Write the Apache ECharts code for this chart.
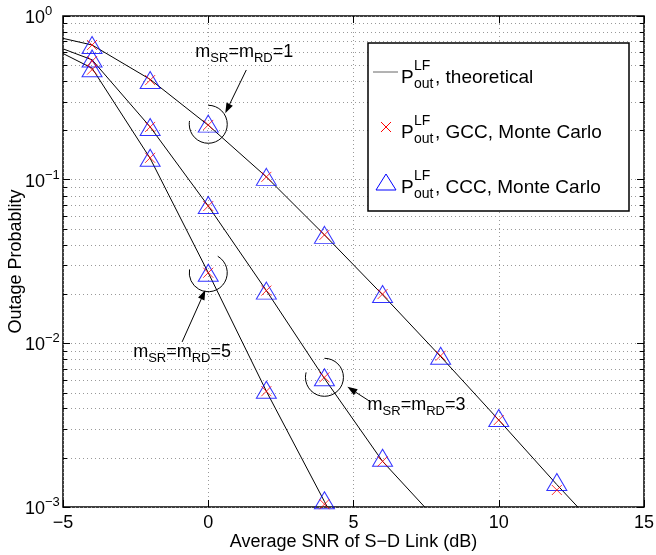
<!DOCTYPE html>
<html>
<head>
<meta charset="utf-8">
<script src="https://cdn.jsdelivr.net/npm/echarts@6/dist/echarts.min.js"></script>
<style>
html, body { margin: 0; padding: 0; background: #fff; }
#chart { width: 656px; height: 555px; }
</style>
</head>
<body>
<div id="chart"></div>
<script>
var FONT = '"Liberation Sans", Arial, sans-serif';

// theoretical curves (x in dB, outage probability)
var theoX1 = [-5, -4, -2, 0, 2, 4, 6, 8, 10, 12, 12.72];
var theoY1 = [0.73, 0.665, 0.41, 0.215, 0.104, 0.046, 0.0198, 0.0083, 0.0034, 0.00137, 0.001];
var theoX3 = [-5, -4, -2, 0, 2, 4, 6, 7.45];
var theoY3 = [0.63, 0.54, 0.21, 0.069, 0.021, 0.0061, 0.0019, 0.001];
var theoX5 = [-5, -4, -2, 0, 2, 4, 4.1];
var theoY5 = [0.59, 0.48, 0.135, 0.027, 0.0051, 0.00108, 0.001];

// monte carlo points
var snr = [-4, -2, 0, 2, 4, 6, 8, 10, 12];
var gccM1 = [0.665, 0.406, 0.216, 0.104, 0.046, 0.020, 0.0084, 0.0034, 0.00127];
var cccM1 = [0.665, 0.406, 0.22, 0.104, 0.046, 0.020, 0.0084, 0.0035, 0.00142];
var gccM3 = [0.53, 0.21, 0.069, 0.021, 0.0062, 0.0019];
var cccM3 = [0.55, 0.21, 0.070, 0.021, 0.0062, 0.0020];
var gccM5 = [0.47, 0.136, 0.027, 0.0051, 0.00104];
var cccM5 = [0.48, 0.136, 0.027, 0.0052, 0.0011];

// y tick labels (decades) and minor grid values of the log axis
var yTicks = [1, 0.1, 0.01, 0.001];
var yTickExp = ['0', '\u22121', '\u22122', '\u22123'];
var minorTicks = [0.002, 0.003, 0.004, 0.005, 0.006, 0.007, 0.008, 0.009,
	0.02, 0.03, 0.04, 0.05, 0.06, 0.07, 0.08, 0.09,
	0.2, 0.3, 0.4, 0.5, 0.6, 0.7, 0.8, 0.9];

// annotations: circled point, arrow tail/tip, label position
var notes = [
	{ text: '1', point: [0, 0.218], tail: [1.31, 0.468], tip: [0.586, 0.255], label: [1.24, 0.60], arc: [-90, 190] },
	{ text: '5', point: [0, 0.027], tail: [-0.9, 0.0102], tip: [-0.10, 0.0212], label: [-0.9, 0.0089], arc: [-60, 190] },
	{ text: '3', point: [4, 0.0062], tail: [5.59, 0.00439], tip: [4.79, 0.00542], label: [7.17, 0.0042], arc: [-90, 195] }
];

function zip(xs, ys) {
	var out = [];
	for (var i = 0; i < ys.length; i++) out.push([xs[i], ys[i]]);
	return out;
}

var X_PATH = 'path://M0,0L10,10M10,0L0,10';

function theoSeries(xs, ys) {
	return {
		type: 'line', data: zip(xs, ys), symbol: 'none', silent: true,
		lineStyle: { color: '#000', width: 1 }, z: 3
	};
}
function triSeries(ys) {
	return {
		type: 'scatter', data: zip(snr, ys), symbol: 'triangle', symbolSize: [20, 17], silent: true,
		itemStyle: { color: 'none', borderColor: '#0000ff', borderWidth: 1 }, z: 4
	};
}
function crossSeries(ys) {
	return {
		type: 'scatter', data: zip(snr, ys), symbol: X_PATH, symbolSize: 10, silent: true,
		itemStyle: { color: 'none', borderColor: '#ff0000', borderWidth: 1 }, z: 5
	};
}

var chart = echarts.init(document.getElementById('chart'), null, { renderer: 'canvas' });

var tickStyle = { inside: true, length: 7, lineStyle: { color: '#000' } };

var option = {
	animation: false,
	textStyle: { fontFamily: FONT },
	grid: {
		left: 63, right: 12, top: 16, bottom: 48, show: true, borderColor: '#000', borderWidth: 1.5,
		containLabel: false, outerBoundsMode: 'none'
	},
	xAxis: [{
		type: 'value', min: -5, max: 15, interval: 5,
		name: 'Average SNR of S\u2212D Link (dB)', nameLocation: 'middle', nameGap: 26, nameMoveOverlap: false,
		nameTextStyle: { fontSize: 18, color: '#000', fontFamily: FONT },
		axisLine: { show: false, onZero: false },
		axisTick: tickStyle,
		axisLabel: {
			fontSize: 18, color: '#000', margin: 7, fontFamily: FONT,
			formatter: function (v) { return String(v).replace('-', '\u2212'); }
		},
		splitLine: { show: true, lineStyle: { color: '#999', type: [1, 3] } }
	}, {
		type: 'value', min: -5, max: 15, interval: 5, position: 'top',
		axisLine: { show: false, onZero: false }, axisLabel: { show: false }, splitLine: { show: false },
		axisTick: tickStyle
	}],
	yAxis: [{
		type: 'log', logBase: 10, min: 0.001, max: 1,
		name: 'Outage Probablity', nameLocation: 'middle', nameGap: 38, nameRotate: 90, nameMoveOverlap: false,
		nameTextStyle: { fontSize: 18, color: '#000', fontFamily: FONT },
		axisLine: { show: false, onZero: false },
		axisTick: tickStyle,
		axisLabel: { show: false },
		splitLine: { show: true, lineStyle: { color: '#999', type: [1, 3] } }
	}, {
		type: 'log', logBase: 10, min: 0.001, max: 1, position: 'right',
		axisLine: { show: false, onZero: false }, axisLabel: { show: false }, splitLine: { show: false },
		axisTick: tickStyle
	}],
	series: [
		theoSeries(theoX1, theoY1),
		theoSeries(theoX3, theoY3),
		theoSeries(theoX5, theoY5),
		triSeries(cccM1), triSeries(cccM3), triSeries(cccM5),
		crossSeries(gccM1), crossSeries(gccM3), crossSeries(gccM5),
		{
			type: 'custom', silent: true, z: 1,
			data: minorTicks.map(function (v) { return [-5, v]; }),
			renderItem: function (params, api) {
				var p = api.coord([api.value(0), api.value(1)]);
				var cs = params.coordSys;
				var y = Math.round(p[1]) + 0.5;
				return {
					type: 'group', children: [
						{ type: 'line', shape: { x1: cs.x, y1: y, x2: cs.x + cs.width, y2: y }, style: { stroke: '#999', lineWidth: 1, lineDash: [1, 3] } },
						{ type: 'line', shape: { x1: cs.x, y1: y, x2: cs.x + 4, y2: y }, style: { stroke: '#000', lineWidth: 1 } },
						{ type: 'line', shape: { x1: cs.x + cs.width - 4, y1: y, x2: cs.x + cs.width, y2: y }, style: { stroke: '#000', lineWidth: 1 } }
					]
				};
			}
		}
	]
};
chart.setOption(option);

// positions through the axes
function px(pt) { return chart.convertToPixel({ seriesIndex: 0 }, pt); }

var graphics = [];

// y tick labels 10^k (superscript exponent)
yTicks.forEach(function (v, i) {
	var p = px([-5, v]);
	graphics.push({
		type: 'text', z: 40, x: p[0] - 38, y: p[1] + 2,
		style: {
			text: '{b|10}{s|' + yTickExp[i] + '}',
			align: 'left', verticalAlign: 'middle',
			rich: {
				b: { fontSize: 18, lineHeight: 26, fontFamily: FONT, fill: '#000' },
				s: { fontSize: 13, lineHeight: 10, verticalAlign: 'top', fontFamily: FONT, fill: '#000' }
			}
		}
	});
});

notes.forEach(function (n) {
	var c = px(n.point), a = px(n.tail), b = px(n.tip), l = px(n.label);
	graphics.push({
		type: 'arc', z: 50,
		shape: { cx: c[0], cy: c[1], r: 19, startAngle: n.arc[0] * Math.PI / 180, endAngle: n.arc[1] * Math.PI / 180, clockwise: true },
		style: { stroke: '#000', fill: null, lineWidth: 1 }
	});
	var dx = b[0] - a[0], dy = b[1] - a[1], len = Math.sqrt(dx * dx + dy * dy);
	var ux = dx / len, uy = dy / len, hl = 10, hw = 3.5;
	var bx = b[0] - ux * hl, by = b[1] - uy * hl;
	graphics.push({ type: 'line', z: 50, shape: { x1: a[0], y1: a[1], x2: bx, y2: by }, style: { stroke: '#000', lineWidth: 1 } });
	graphics.push({
		type: 'polygon', z: 50,
		shape: { points: [[b[0], b[1]], [bx - uy * hw, by + ux * hw], [bx + uy * hw, by - ux * hw]] },
		style: { fill: '#000' }
	});
	graphics.push({
		type: 'text', z: 50, x: l[0], y: l[1],
		style: {
			text: '{a|m}{b|SR}{a|=m}{b|RD}{a|=' + n.text + '}',
			align: 'center', verticalAlign: 'middle',
			rich: {
				a: { fontSize: 18, lineHeight: 26, fontFamily: FONT, fill: '#000' },
				b: { fontSize: 13, lineHeight: 10, verticalAlign: 'bottom', fontFamily: FONT, fill: '#000' }
			}
		}
	});
});

// legend box
var legendBox = { x: 368, y: 43, w: 261, h: 168 };
var legendLabels = [', theoretical', ', GCC, Monte Carlo', ', CCC, Monte Carlo'];
graphics.push({
	type: 'rect', z: 60,
	shape: { x: legendBox.x, y: legendBox.y, width: legendBox.w, height: legendBox.h },
	style: { fill: '#fff', stroke: '#000', lineWidth: 1.5 }
});
legendLabels.forEach(function (txt, i) {
	var base = legendBox.y + 25 + i * 55;   // text baseline
	var ix = legendBox.x + 18, iy = base + 4;
	if (i === 0) {
		graphics.push({ type: 'line', z: 61, shape: { x1: ix - 13, y1: iy, x2: ix + 12, y2: iy }, style: { stroke: '#666', lineWidth: 1 } });
	} else if (i === 1) {
		graphics.push({ type: 'line', z: 61, shape: { x1: ix - 5, y1: iy - 5, x2: ix + 5, y2: iy + 5 }, style: { stroke: '#ff0000', lineWidth: 1 } });
		graphics.push({ type: 'line', z: 61, shape: { x1: ix + 5, y1: iy - 5, x2: ix - 5, y2: iy + 5 }, style: { stroke: '#ff0000', lineWidth: 1 } });
	} else {
		graphics.push({
			type: 'polygon', z: 61,
			shape: { points: [[ix - 10, iy + 8], [ix + 10, iy + 8], [ix, iy - 8]] },
			style: { fill: 'none', stroke: '#0000ff', lineWidth: 1 }
		});
	}
	var tx = legendBox.x + 33;
	graphics.push({ type: 'text', z: 61, x: tx, y: base, style: { text: 'P', font: '19px ' + FONT, fill: '#000', verticalAlign: 'alphabetic' } });
	graphics.push({ type: 'text', z: 61, x: tx + 13, y: base - 9, style: { text: 'LF', font: '14px ' + FONT, fill: '#000', verticalAlign: 'alphabetic' } });
	graphics.push({ type: 'text', z: 61, x: tx + 13, y: base + 9, style: { text: 'out', font: '14px ' + FONT, fill: '#000', verticalAlign: 'alphabetic' } });
	graphics.push({ type: 'text', z: 61, x: tx + 34, y: base, style: { text: txt, font: '19px ' + FONT, fill: '#000', verticalAlign: 'alphabetic' } });
});

chart.setOption({ graphic: graphics });
</script>
</body>
</html>
